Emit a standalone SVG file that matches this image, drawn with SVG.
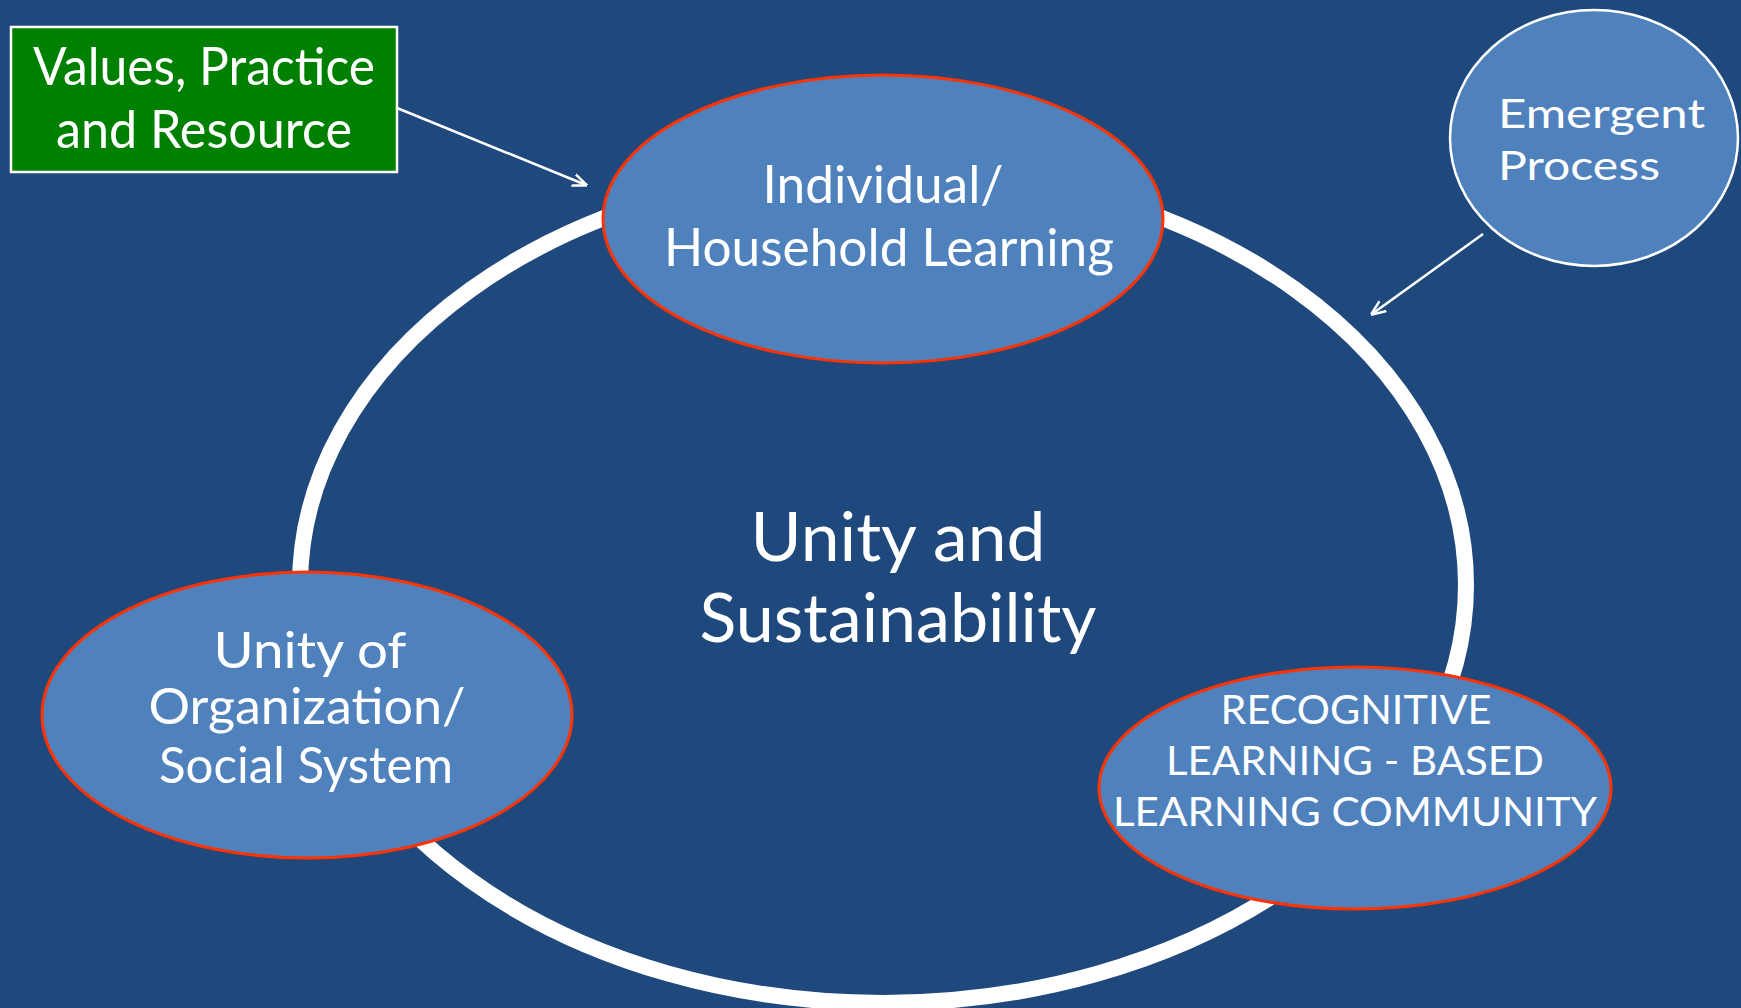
<svg xmlns="http://www.w3.org/2000/svg" width="1741" height="1008" viewBox="0 0 1741 1008">
  <defs>
    <style>
      .node { fill: #4f81bd; stroke: #ff3300; stroke-width: 3; }
      .circ { fill: #4f81bd; stroke: #ffffff; stroke-width: 2.5; }
      .txt { fill: #ffffff; font-family: Lato, "Liberation Sans", sans-serif; text-anchor: middle; }
      .conn { stroke: #ffffff; stroke-width: 2.5; fill: none; marker-end: url(#arr); }
    </style>
    <marker id="arr" viewBox="0 0 10 10" refX="9" refY="5" markerWidth="15" markerHeight="15" orient="auto" markerUnits="userSpaceOnUse">
      <path d="M0,1 L10,5 L0,9" fill="none" stroke="#ffffff" stroke-width="1.6" stroke-linejoin="miter"/>
    </marker>
  </defs>
  <rect x="0" y="0" width="1741" height="1008" fill="#1f497d"/>

  <g id="ring">
    <ellipse cx="883" cy="585" rx="583" ry="418" fill="none" stroke="#ffffff" stroke-width="16"/>
  </g>

  <g id="center-label">
    <text class="txt" x="898" y="561" font-size="68" textLength="295" lengthAdjust="spacingAndGlyphs">Unity and</text>
    <text class="txt" x="898" y="642" font-size="68" textLength="397" lengthAdjust="spacingAndGlyphs">Sustainability</text>
  </g>

  <g id="node-values">
    <rect x="11" y="27" width="386" height="145" fill="#008000" stroke="#ffffff" stroke-width="2.5"/>
    <text class="txt" x="204" y="85" font-size="52" textLength="342" lengthAdjust="spacingAndGlyphs">Values, Practice</text>
    <text class="txt" x="204" y="148" font-size="52" textLength="296" lengthAdjust="spacingAndGlyphs">and Resource</text>
  </g>

  <g id="node-individual">
    <ellipse class="node" cx="883" cy="219" rx="280" ry="144"/>
    <text class="txt" x="883" y="203" font-size="52" textLength="241" lengthAdjust="spacingAndGlyphs">Individual/</text>
    <text class="txt" x="889" y="266" font-size="52" textLength="450" lengthAdjust="spacingAndGlyphs">Household Learning</text>
  </g>

  <g id="node-emergent">
    <ellipse class="circ" cx="1594" cy="138" rx="144" ry="128"/>
    <text class="txt" x="1498" y="128" font-size="40" style="text-anchor:start" textLength="207" lengthAdjust="spacingAndGlyphs">Emergent</text>
    <text class="txt" x="1498" y="180" font-size="40" style="text-anchor:start" textLength="162" lengthAdjust="spacingAndGlyphs">Process</text>
  </g>

  <g id="node-unity-org">
    <ellipse class="node" cx="307" cy="715" rx="265" ry="143"/>
    <text class="txt" x="310" y="668" font-size="50" textLength="193" lengthAdjust="spacingAndGlyphs">Unity of</text>
    <text class="txt" x="307" y="724" font-size="50" textLength="317" lengthAdjust="spacingAndGlyphs">Organization/</text>
    <text class="txt" x="306" y="783" font-size="50" textLength="294" lengthAdjust="spacingAndGlyphs">Social System</text>
  </g>

  <g id="node-recognitive">
    <ellipse class="node" cx="1355" cy="788" rx="256" ry="121"/>
    <text class="txt" x="1356" y="724" font-size="40" textLength="271" lengthAdjust="spacingAndGlyphs">RECOGNITIVE</text>
    <text class="txt" x="1355" y="775" font-size="40" textLength="378" lengthAdjust="spacingAndGlyphs">LEARNING - BASED</text>
    <text class="txt" x="1355" y="826" font-size="40" textLength="484" lengthAdjust="spacingAndGlyphs">LEARNING COMMUNITY</text>
  </g>

  <g id="connectors">
    <line class="conn" x1="397" y1="108" x2="586" y2="185"/>
    <line class="conn" x1="1483" y1="234" x2="1372" y2="314"/>
  </g>
</svg>
